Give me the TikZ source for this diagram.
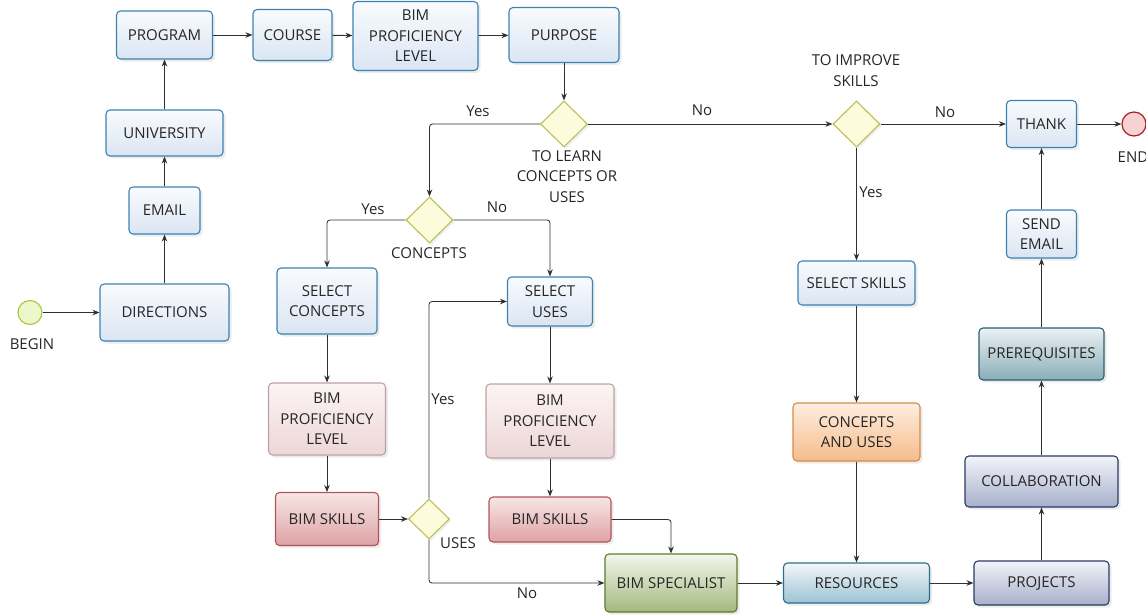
\documentclass[tikz,border=0pt]{standalone}
\usepackage{fontspec}
\setmainfont{Open Sans}
\usepackage{xcolor}
\usepackage{tikz}
\usetikzlibrary{positioning, shapes.geometric, arrows.meta, shadows}

\definecolor{txtgray}{HTML}{262626}
\definecolor{flowgray}{HTML}{303030}
\definecolor{bluedraw}{HTML}{3C82B0}
\definecolor{bluetop}{HTML}{F9FBFE}
\definecolor{bluebot}{HTML}{DAE5F3}
\definecolor{pinkdraw}{HTML}{B9A4A5}
\definecolor{pinktop}{HTML}{FCF4F4}
\definecolor{pinkbot}{HTML}{EDD6D7}
\definecolor{reddraw}{HTML}{B0565A}
\definecolor{redtop}{HTML}{F7E6E6}
\definecolor{redbot}{HTML}{DEA2A5}
\definecolor{greendraw}{HTML}{5E7A2E}
\definecolor{greentop}{HTML}{F3F6EC}
\definecolor{greenbot}{HTML}{A3B980}
\definecolor{tealdraw}{HTML}{2C6E8E}
\definecolor{tealtop}{HTML}{F3F7FA}
\definecolor{tealbot}{HTML}{9CC2D3}
\definecolor{navydraw}{HTML}{2B3A66}
\definecolor{navytop}{HTML}{F3F4F9}
\definecolor{navybot}{HTML}{A7B0CB}
\definecolor{prereqdraw}{HTML}{2B5F6F}
\definecolor{prereqtop}{HTML}{EAF1F3}
\definecolor{prereqbot}{HTML}{8AAEB9}
\definecolor{orangedraw}{HTML}{D58A4B}
\definecolor{orangetop}{HTML}{FDEEDF}
\definecolor{orangebot}{HTML}{F6BC8B}
\definecolor{gatedraw}{HTML}{BDBD5A}
\definecolor{gatefill}{HTML}{FCFCDC}
\definecolor{begindraw}{HTML}{A6CC45}
\definecolor{beginfill}{HTML}{EEF7C9}
\definecolor{enddraw}{HTML}{A81E24}
\definecolor{endfill}{HTML}{F6D2D3}

\begin{document}
\begin{tikzpicture}[x=1pt, y=-1pt,
  font=\fontsize{15}{20.5}\selectfont, text=txtgray,
  task/.style={rectangle, rounded corners=4pt, line width=1.1pt, align=center, inner sep=2pt,
    drop shadow={opacity=0.15, shadow xshift=2.5pt, shadow yshift=-2.5pt}},
  bluetask/.style={task, draw=bluedraw, top color=bluetop, bottom color=bluebot},
  pinktask/.style={task, draw=pinkdraw, top color=pinktop, bottom color=pinkbot},
  redtask/.style={task, draw=reddraw, top color=redtop, bottom color=redbot},
  greentask/.style={task, draw=greendraw, top color=greentop, bottom color=greenbot},
  tealtask/.style={task, draw=tealdraw, top color=tealtop, bottom color=tealbot},
  navytask/.style={task, draw=navydraw, top color=navytop, bottom color=navybot},
  prereqtask/.style={task, draw=prereqdraw, top color=prereqtop, bottom color=prereqbot},
  orangetask/.style={task, draw=orangedraw, top color=orangetop, bottom color=orangebot},
  gate/.style={diamond, draw=gatedraw, fill=gatefill, line width=1.1pt, inner sep=0pt,
    drop shadow={opacity=0.12, shadow xshift=2pt, shadow yshift=-2pt}},
  event/.style={circle, line width=1.2pt, minimum size=24pt, inner sep=0pt},
  lbl/.style={inner sep=1pt},
  flow/.style={-{Stealth[length=7pt,width=5.5pt]}, draw=flowgray, line width=0.85pt, rounded corners=3pt}]

\useasboundingbox (0,0) rectangle (1146,614);

\node[event, draw=begindraw, fill=beginfill] (begin) at (30,312.5) {};
\node[lbl] (beginlbl) at (32,344) {BEGIN};
\node[bluetask, minimum width=129, minimum height=57] (directions) at (164.5,312.5) {DIRECTIONS};
\node[bluetask, minimum width=71, minimum height=47] (email) at (164.5,210.5) {EMAIL};
\node[bluetask, minimum width=117, minimum height=46] (university) at (164.5,133) {UNIVERSITY};
\node[bluetask, minimum width=96, minimum height=48] (program) at (164.5,35) {PROGRAM};
\node[bluetask, minimum width=79, minimum height=51] (course) at (292.5,35) {COURSE};
\node[bluetask, minimum width=125, minimum height=69] (levelone) at (415.5,36) {BIM\\PROFICIENCY\\LEVEL};
\node[bluetask, minimum width=110, minimum height=55] (purpose) at (564,35) {PURPOSE};

\node[gate, minimum width=47, minimum height=46] (learn) at (564,124) {};
\node[lbl] (learnlbl) at (567,176.5) [align=center] {TO LEARN\\CONCEPTS OR\\USES};
\node[gate, minimum width=47, minimum height=46] (improve) at (856.5,124) {};
\node[lbl] (improvelbl) at (856,70.5) [align=center] {TO IMPROVE\\SKILLS};
\node[gate, minimum width=47, minimum height=46] (concepts) at (429.5,220) {};
\node[lbl] (conceptslbl) at (429,253) {CONCEPTS};

\node[bluetask, minimum width=100, minimum height=66] (selconcepts) at (327,301) {SELECT\\CONCEPTS};
\node[bluetask, minimum width=85, minimum height=49] (seluses) at (550,301.5) {SELECT\\USES};
\node[pinktask, minimum width=117, minimum height=72] (levelleft) at (327,419) {BIM\\PROFICIENCY\\LEVEL};
\node[pinktask, minimum width=128, minimum height=74] (levelright) at (550,421) {BIM\\PROFICIENCY\\LEVEL};
\node[redtask, minimum width=103, minimum height=53] (skillsleft) at (327,519) {BIM SKILLS};
\node[redtask, minimum width=122, minimum height=45] (skillsright) at (550,519.5) {BIM SKILLS};
\node[gate, minimum width=41, minimum height=40] (uses) at (429,519) {};
\node[lbl] (useslbl) at (458,543) {USES};

\node[greentask, minimum width=132, minimum height=58] (specialist) at (671,583) {BIM SPECIALIST};
\node[tealtask, minimum width=146, minimum height=40] (resources) at (856.5,583) {RESOURCES};
\node[navytask, minimum width=135, minimum height=44] (projects) at (1041.5,583) {PROJECTS};
\node[navytask, minimum width=153, minimum height=51] (collab) at (1041.5,481.5) {COLLABORATION};
\node[prereqtask, minimum width=125, minimum height=52] (prereq) at (1041.5,354) {PREREQUISITES};
\node[bluetask, minimum width=70, minimum height=48] (sendemail) at (1041.5,234) {SEND\\EMAIL};
\node[bluetask, minimum width=70, minimum height=47] (thank) at (1041.5,124) {THANK};
\node[event, draw=enddraw, fill=endfill] (end) at (1134,124) {};
\node[lbl] (endlbl) at (1133,157) {END};

\node[bluetask, minimum width=117, minimum height=44] (selskills) at (856.5,283) {SELECT SKILLS};
\node[orangetask, minimum width=127, minimum height=58] (conuses) at (856.5,432) {CONCEPTS\\AND USES};

\draw[flow] (begin) -- (directions);
\draw[flow] (directions) -- (email);
\draw[flow] (email) -- (university);
\draw[flow] (university) -- (program);
\draw[flow] (program) -- (course);
\draw[flow] (course) -- (levelone);
\draw[flow] (levelone) -- (purpose);
\draw[flow] (purpose) -- (learn);
\draw[flow] (learn.west) -| (concepts.north);
\draw[flow] (learn.east) -- (improve.west);
\draw[flow] (improve.east) -- (thank.west);
\draw[flow] (improve.south) -- (selskills.north);
\draw[flow] (concepts.west) -| (selconcepts.north);
\draw[flow] (concepts.east) -| (seluses.north);
\draw[flow] (selconcepts) -- (levelleft);
\draw[flow] (levelleft) -- (skillsleft);
\draw[flow] (skillsleft) -- (uses);
\draw[flow] (uses.north) |- (seluses.west);
\draw[flow] (uses.south) |- (specialist.west);
\draw[flow] (seluses) -- (levelright);
\draw[flow] (levelright) -- (skillsright);
\draw[flow] (skillsright.east) -| (specialist.north);
\draw[flow] (specialist) -- (resources);
\draw[flow] (selskills) -- (conuses);
\draw[flow] (conuses) -- (resources);
\draw[flow] (resources) -- (projects);
\draw[flow] (projects) -- (collab);
\draw[flow] (collab) -- (prereq);
\draw[flow] (prereq) -- (sendemail);
\draw[flow] (sendemail) -- (thank);
\draw[flow] (thank) -- (end);

\node[lbl] (yesone) at (478,111) {Yes};
\node[lbl] (noone) at (702,110) {No};
\node[lbl] (notwo) at (945,112) {No};
\node[lbl] (yestwo) at (871,192) {Yes};
\node[lbl] (yesthree) at (373,209) {Yes};
\node[lbl] (nothree) at (497,207) {No};
\node[lbl] (yesfour) at (443,399) {Yes};
\node[lbl] (nofour) at (527,593) {No};
\end{tikzpicture}
\end{document}
